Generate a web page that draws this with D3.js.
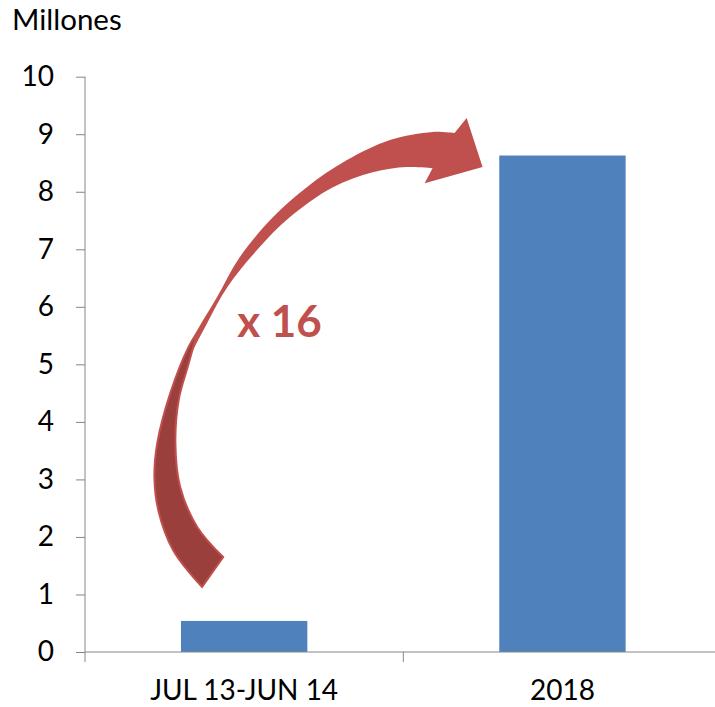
<!DOCTYPE html>
<html><head><meta charset="utf-8">
<script src="https://cdn.jsdelivr.net/npm/d3@7"></script>
<style>html,body{margin:0;padding:0;background:#fff;}svg{display:block;}</style>
</head><body>
<svg id="chart" width="715" height="707"></svg>
<script>
(function(){
// ---- data ----
const categories = ["JUL 13-JUN 14", "2018"];
const values = [0.54, 8.63];
const yTicks = [0,1,2,3,4,5,6,7,8,9,10];
const unitLabel = "Millones";
const growthLabel = "x 16";
// arrow annotation outline in data units: u = fraction from bar 1 centre (0) to bar 2 centre (1), v = value
const arrowOuter = [[-0.132,1.13],[-0.223,1.77],[-0.270,2.47],[-0.282,3.04],[-0.273,3.63],[-0.232,4.50],[-0.169,5.37],[-0.085,6.17],[-0.013,6.87],[0.091,7.56],[0.197,8.08],[0.323,8.55],[0.458,8.90],[0.592,9.04],[0.661,9.02]];
const arrowHead = [[0.699,9.28],[0.749,8.43],[0.567,8.15],[0.592,8.41]];
const arrowInner = [[0.592,8.41],[0.511,8.43],[0.404,8.34],[0.279,8.08],[0.144,7.56],[0.041,6.99],[-0.053,6.34],[-0.116,5.72],[-0.169,5.13],[-0.207,4.38],[-0.216,3.63],[-0.201,2.87],[-0.147,2.17],[-0.066,1.65]];
const arrowDarkLeft = [[-0.132,1.13],[-0.223,1.77],[-0.270,2.47],[-0.282,3.04],[-0.273,3.63],[-0.232,4.50],[-0.175,5.30],[-0.148,5.55]];
const arrowDarkRight = [[-0.148,5.55],[-0.175,5.0],[-0.205,4.4],[-0.216,3.63],[-0.201,2.87],[-0.147,2.17],[-0.066,1.65]];
const labelPos = [-0.022, 5.48];

// ---- layout ----
const mLeft = 85, mRight = 721.6, mTop = 76.7, mBottom = 652;
const axisColor = "#868686";
const font = "Lato, 'Open Sans', sans-serif";
const svg = d3.select("#chart");

const x = d3.scaleBand().domain(categories).range([mLeft, mRight]).padding(0);
const y = d3.scaleLinear().domain([0, 10]).range([mBottom, mTop]);
const barFrac = 0.397;
const bw = x.bandwidth() * barFrac;
const ax = d3.scaleLinear().domain([0, 1]).range([x(categories[0]) + x.bandwidth()/2, x(categories[1]) + x.bandwidth()/2]);

// bars
svg.selectAll("rect.bar").data(values).join("rect")
  .attr("class","bar")
  .attr("x", (d,i) => x(categories[i]) + (x.bandwidth()-bw)/2)
  .attr("y", d => y(d))
  .attr("width", bw)
  .attr("height", d => y(0) - y(d))
  .attr("fill", "#4F81BD");

// y axis
const yAxis = svg.append("g").attr("transform", `translate(${mLeft},0)`)
  .call(d3.axisLeft(y).tickValues(yTicks).tickFormat(d3.format("d")).tickSize(9).tickPadding(22));
yAxis.select(".domain").attr("stroke", axisColor).attr("d", `M0,${mTop}V${mBottom}`);
yAxis.selectAll(".tick line").attr("stroke", axisColor);
yAxis.selectAll(".tick text").attr("font-family", font).attr("font-size", 28).attr("fill", "#000");

// x axis
const xg = svg.append("g").attr("transform", `translate(0,${mBottom})`);
xg.append("line").attr("x1", mLeft).attr("x2", mRight).attr("y1", 0).attr("y2", 0).attr("stroke", axisColor);
const edges = [mLeft].concat(categories.map(c => x(c) + x.bandwidth()));
xg.selectAll("line.tk").data(edges).join("line").attr("class","tk")
  .attr("x1", d => d).attr("x2", d => d).attr("y1", 0).attr("y2", 10).attr("stroke", axisColor);
xg.selectAll("text").data(categories).join("text")
  .attr("x", d => x(d) + x.bandwidth()/2).attr("y", 48)
  .attr("text-anchor", "middle").attr("font-family", font).attr("font-size", 28).attr("fill", "#000")
  .text(d => d);

// unit label
svg.append("text").attr("x", 12).attr("y", 30).attr("font-family", font).attr("font-size", 29.5).attr("fill","#000").text(unitLabel);

// arrow
const P = p => [ax(p[0]), y(p[1])];
const curve = d3.line().curve(d3.curveCatmullRom.alpha(0.5));
const outerPath = curve(arrowOuter.map(P));
const innerPath = curve(arrowInner.map(P));
const headPath = arrowHead.map(P).map(p => `L${p[0]},${p[1]}`).join("");
svg.append("path")
  .attr("d", outerPath + headPath + "L" + innerPath.slice(1) + "Z")
  .attr("fill", "#C0504D");
const darkL = curve(arrowDarkLeft.map(P));
const darkR = curve(arrowDarkRight.map(P));
svg.append("path")
  .attr("d", darkL + "L" + darkR.slice(1) + "Z")
  .attr("fill", "#9B3F3D").attr("stroke", "#C0504D").attr("stroke-width", 2);

svg.append("text").attr("x", ax(labelPos[0])).attr("y", y(labelPos[1]))
  .attr("font-family", font).attr("font-weight", "bold").attr("font-size", 44).attr("fill", "#C0504D")
  .text(growthLabel);
})();
</script>
</body></html>
